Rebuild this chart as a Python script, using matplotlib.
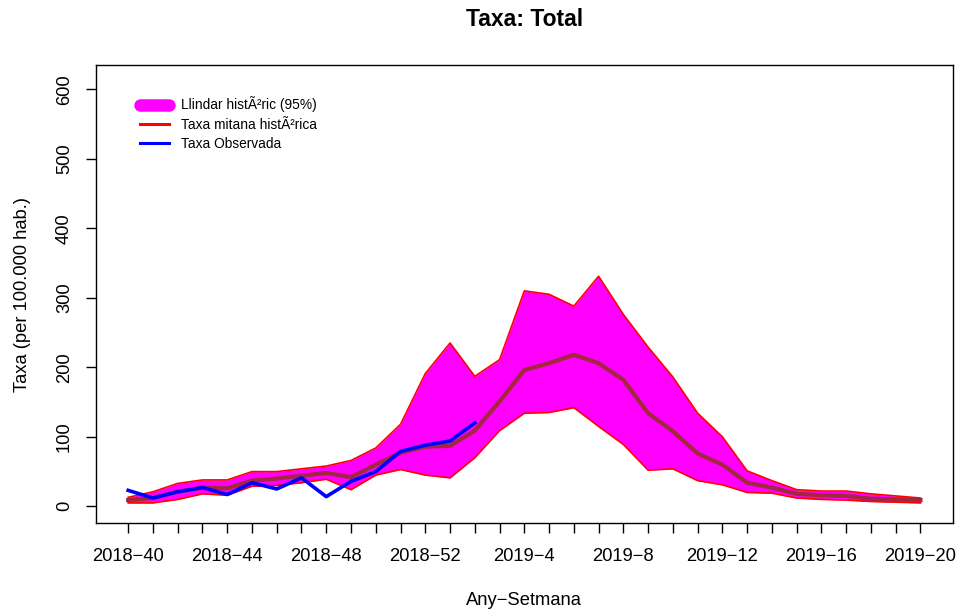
import matplotlib
matplotlib.use("Agg")
import matplotlib.pyplot as plt
from matplotlib.lines import Line2D
import numpy as np

plt.rcParams['font.family'] = ['Liberation Sans', 'DejaVu Sans']

weeks = [f"2018\u2212{w}" for w in range(40, 53)] + [f"2019\u2212{w}" for w in range(1, 21)]

upper = [13, 21, 33, 38, 38, 50, 50, 54, 58, 66, 84, 118, 191, 235, 187, 211,
         310, 305, 288, 331, 276, 229, 186, 134, 100, 51, 37, 24, 22, 22, 18, 15, 12]
lower = [5, 5, 10, 18, 16, 29, 30, 34, 39, 24, 45, 53, 45, 41, 70, 109,
         134, 135, 142, 115, 89, 52, 54, 37, 31, 20, 19, 12, 10, 9, 7, 6, 5]
mean = [9, 12, 21, 27, 26, 37, 40, 44, 48, 42, 60, 77, 86, 87, 109, 151,
        196, 206, 218, 206, 182, 134, 108, 76, 60, 34, 27, 18, 16, 15, 11, 10, 9]
observed = [23, 12, 21, 27, 17, 34, 25, 41, 14, 36, 50, 79, 88, 94, 120]

yticks = [0, 100, 200, 300, 400, 500, 600]
title = "Taxa: Total"
xlabel = "Any\u2212Setmana"
ylabel = "Taxa (per 100.000 hab.)"
legend_labels = ["Llindar hist\u00c3\u00b2ric (95%)", "Taxa mitana hist\u00c3\u00b2rica", "Taxa Observada"]

fig = plt.figure(figsize=(9.59, 6.11), dpi=100)
ax = fig.add_axes([0.1001, 0.1435, 0.8933, 0.7496])

x = np.arange(len(weeks))
ax.fill_between(x, lower, upper, color='#FF00FF', linewidth=0, zorder=1)
ax.plot(x, upper, color='#FF0000', lw=1.2, zorder=2)
ax.plot(x, lower, color='#FF0000', lw=1.2, zorder=2)
ax.plot(x, mean, color='#A3273F', lw=3, zorder=3, solid_joinstyle='round')
ax.plot(x[:len(observed)], observed, color='#0000FF', lw=2.6, zorder=4, solid_joinstyle='round')

ax.set_xlim(-1.3, 33.3)
ax.set_ylim(-24.4, 634.4)

fs = 13.2
ax.set_xticks(x)
ax.set_xticklabels([w if i % 4 == 0 else "" for i, w in enumerate(weeks)], fontsize=fs)
ax.set_yticks(yticks)
ax.set_yticklabels([str(v) for v in yticks], fontsize=fs, rotation=90, va='center')
ax.tick_params(axis='both', direction='out', length=7, width=1, color='black')
ax.tick_params(axis='x', pad=11)
ax.tick_params(axis='y', pad=9.5)
for s in ax.spines.values():
    s.set_linewidth(1)

ax.set_xlabel(xlabel, fontsize=fs, labelpad=19)
ax.set_ylabel(ylabel, fontsize=fs, labelpad=18)
fig.text(0.5468, 1 - 19.7 / 611, title, ha='center', va='center', fontsize=16.5, fontweight='bold')

handles = [
    Line2D([0], [0], color='#FF00FF', lw=9, solid_capstyle='round'),
    Line2D([0], [0], color='#FF0000', lw=2.2),
    Line2D([0], [0], color='#0000FF', lw=2.2),
]
leg = ax.legend(handles, legend_labels, loc='upper left', bbox_to_anchor=(0.045, 0.944),
                frameon=False, fontsize=9.9, handlelength=2.1, handletextpad=0.85,
                labelspacing=0.37, borderaxespad=0)

fig.savefig("out.png", dpi=100)
